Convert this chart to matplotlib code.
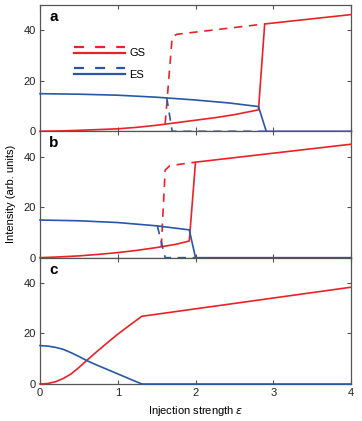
import matplotlib
matplotlib.use("Agg")
import matplotlib.pyplot as plt
from matplotlib.lines import Line2D
from matplotlib.legend_handler import HandlerBase

plt.rcParams['font.family'] = ['Liberation Sans', 'DejaVu Sans']

RED = '#ec2127'
BLUE = '#2857a8'

# ---- Panel a ----
gs_solid_x_a = [0, 0.25, 0.5, 0.75, 1.0, 1.25, 1.5, 1.75, 2.0, 2.25, 2.5, 2.81, 2.89, 4.0]
gs_solid_y_a = [0, 0.15, 0.4, 0.7, 1.0, 1.6, 2.4, 3.4, 4.4, 5.4, 6.6, 8.5, 42.5, 46.2]
gs_dash_x_a = [1.61, 1.70, 1.76, 2.89]
gs_dash_y_a = [3.0, 37.3, 38.4, 42.5]
es_solid_x_a = [0, 0.5, 1.0, 1.5, 2.0, 2.44, 2.81, 2.91, 4.0]
es_solid_y_a = [14.9, 14.7, 14.3, 13.5, 12.4, 11.2, 9.8, 0, 0]
es_dash_x_a = [1.63, 1.70, 2.91]
es_dash_y_a = [13.3, 0, 0]

# ---- Panel b ----
gs_solid_x_b = [0, 0.25, 0.5, 0.75, 1.0, 1.25, 1.5, 1.75, 1.92, 2.0, 4.0]
gs_solid_y_b = [0, 0.3, 0.7, 1.3, 2.0, 2.9, 4.0, 5.3, 6.6, 37.8, 44.9]
gs_dash_x_b = [1.56, 1.61, 1.67, 2.0]
gs_dash_y_b = [4.3, 34.7, 36.4, 37.8]
es_solid_x_b = [0, 0.5, 1.0, 1.5, 1.92, 2.0, 4.0]
es_solid_y_b = [14.9, 14.6, 13.9, 12.6, 11.0, 0, 0]
es_dash_x_b = [1.51, 1.61, 2.0]
es_dash_y_b = [12.5, 0, 0]

# ---- Panel c ----
gs_x_c = [0, 0.1, 0.2, 0.3, 0.4, 0.5, 0.6, 0.7, 0.8, 0.9, 1.0, 1.15, 1.31, 4.0]
gs_y_c = [0, 0.2, 0.9, 2.2, 4.0, 6.5, 9.3, 12.0, 14.6, 17.2, 19.7, 23.2, 26.8, 38.3]
es_x_c = [0, 0.1, 0.2, 0.3, 0.4, 0.5, 0.6, 0.7, 0.8, 0.9, 1.0, 1.1, 1.2, 1.31, 4.0]
es_y_c = [15.2, 15.0, 14.5, 13.7, 12.4, 10.9, 9.3, 7.9, 6.6, 5.3, 4.0, 2.7, 1.4, 0, 0]

x_ticks = [0, 1, 2, 3, 4]
y_ticks = [0, 20, 40]
panel_labels = ['a', 'b', 'c']
legend_labels = ['GS', 'ES']

LW = 1.2
DASH = (5, 4)

fig = plt.figure(figsize=(3.62, 4.21), dpi=100)
left, right = 40 / 362, 351 / 362
top_px, bot_px = 5, 384
h_px = (bot_px - top_px) / 3
axes = []
for i in range(3):
    t = top_px + i * h_px
    ax = fig.add_axes([left, 1 - (t + h_px) / 421, right - left, h_px / 421])
    axes.append(ax)

for i, ax in enumerate(axes):
    ax.set_xlim(0, 4)
    ax.set_ylim(0, 50)
    ax.set_xticks(x_ticks)
    ax.set_yticks(y_ticks)
    ax.tick_params(direction='in', length=3, width=0.8, top=True, right=True,
                   labelsize=8, pad=3, colors='#222222')
    ax.tick_params(axis='both', color='#555555')
    for s in ax.spines.values():
        s.set_color('#555555')
        s.set_linewidth(0.9)
    if i < 2:
        ax.set_xticklabels([])
    ax.text(0.03, 0.905, panel_labels[i], transform=ax.transAxes,
            fontsize=11, fontweight='bold', va='center', ha='left')

ax = axes[0]
ax.plot(gs_solid_x_a, gs_solid_y_a, color=RED, lw=LW, clip_on=False, zorder=3)
ax.plot(gs_dash_x_a, gs_dash_y_a, color=RED, lw=LW, dashes=DASH, zorder=3)
ax.plot(es_solid_x_a, es_solid_y_a, color=BLUE, lw=LW, clip_on=False, zorder=3)
ax.plot(es_dash_x_a, es_dash_y_a, color=BLUE, lw=LW, dashes=DASH, clip_on=False, zorder=3)

ax = axes[1]
ax.plot(gs_solid_x_b, gs_solid_y_b, color=RED, lw=LW, clip_on=False, zorder=3)
ax.plot(gs_dash_x_b, gs_dash_y_b, color=RED, lw=LW, dashes=DASH, zorder=3)
ax.plot(es_solid_x_b, es_solid_y_b, color=BLUE, lw=LW, clip_on=False, zorder=3)
ax.plot(es_dash_x_b, es_dash_y_b, color=BLUE, lw=LW, dashes=DASH, clip_on=False, zorder=3)

ax = axes[2]
ax.plot(gs_x_c, gs_y_c, color=RED, lw=LW, clip_on=False, zorder=3)
ax.plot(es_x_c, es_y_c, color=BLUE, lw=LW, clip_on=False, zorder=3)


class DoubleLineHandler(HandlerBase):
    def create_artists(self, legend, orig_handle, xdescent, ydescent,
                       width, height, fontsize, trans):
        color = orig_handle
        ymid = height / 2 - ydescent
        l_solid = Line2D([-xdescent, width - xdescent], [ymid, ymid],
                         color=color, lw=1.6)
        l_dash = Line2D([-xdescent, width - xdescent], [ymid + 3.8, ymid + 3.8],
                        color=color, lw=1.6, dashes=(4.5, 5))
        l_solid.set_transform(trans)
        l_dash.set_transform(trans)
        return [l_dash, l_solid]


axes[0].legend([RED, BLUE], legend_labels,
               handler_map={str: DoubleLineHandler()},
               loc='upper left', bbox_to_anchor=(0.09, 0.70),
               frameon=False, fontsize=8, handlelength=4.6,
               handletextpad=0.4, labelspacing=1.0, borderpad=0)

fig.text(11 / 362, 1 - 194 / 421, 'Intensity (arb. units)', rotation=90,
         ha='center', va='center', fontsize=8)
fig.text((left + right) / 2, 1 - 411 / 421, 'Injection strength $\\epsilon$',
         ha='center', va='center', fontsize=8)

fig.savefig('out.png', dpi=100)
